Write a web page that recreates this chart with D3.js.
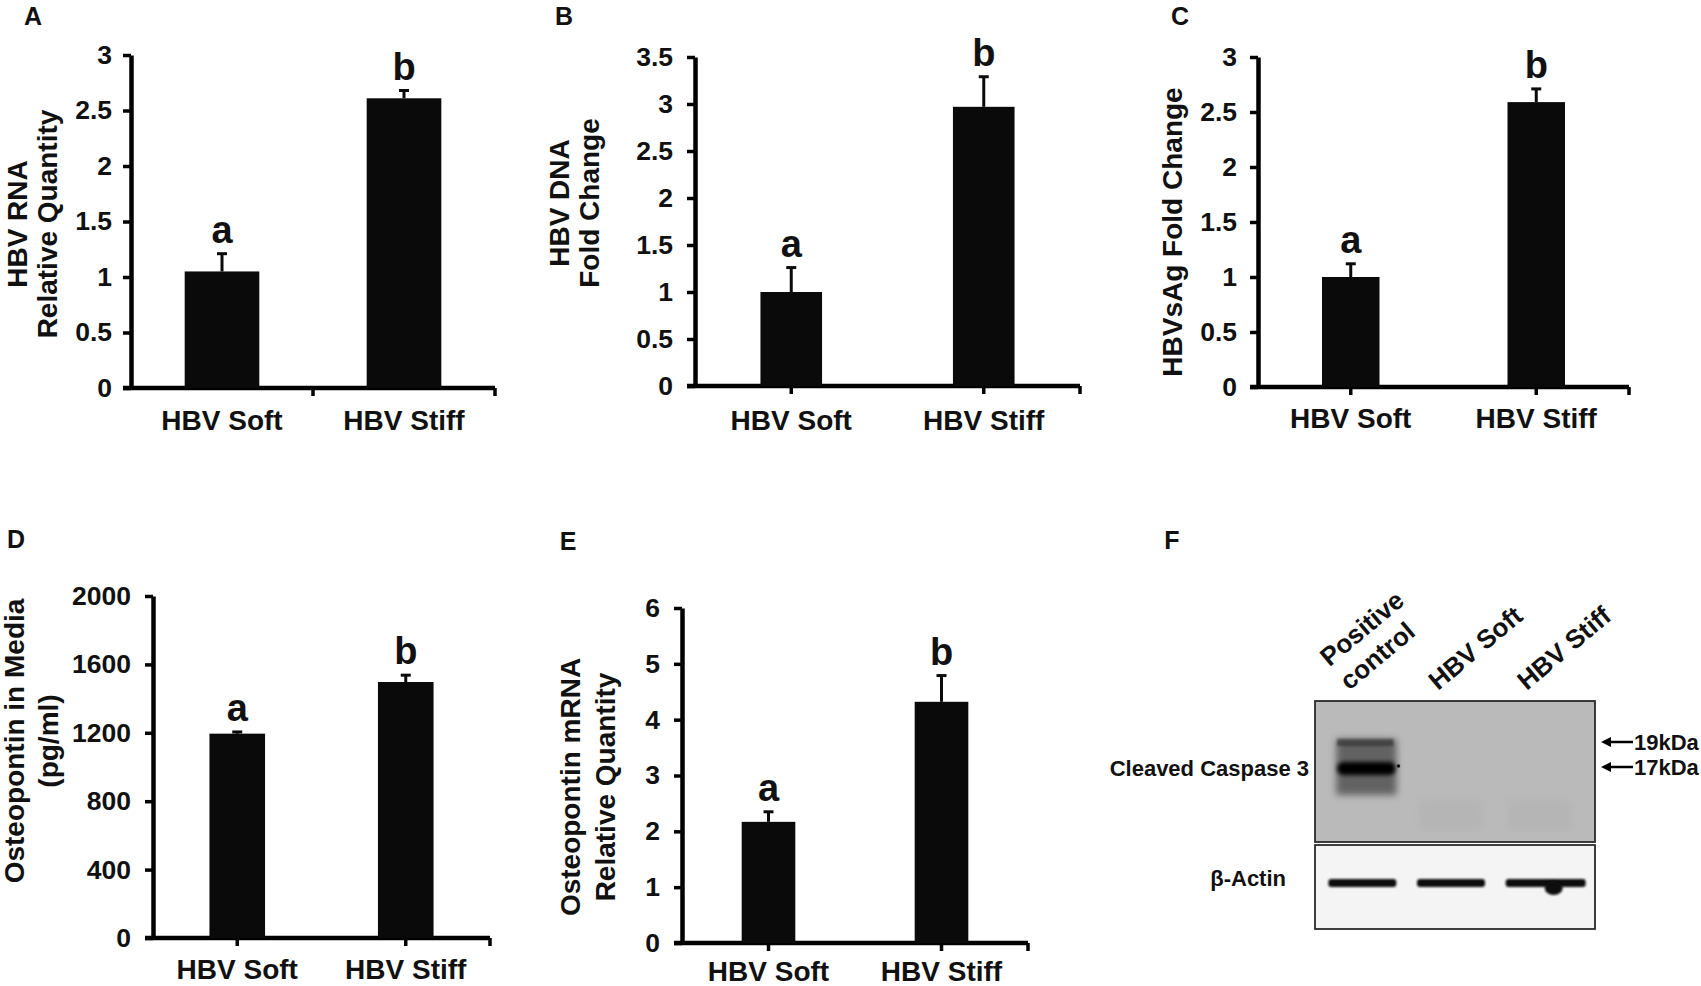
<!DOCTYPE html>
<html>
<head>
<meta charset="utf-8">
<style>
  body { margin: 0; background: #fff; }
  svg text { font-family: "Liberation Sans", Arial, sans-serif; font-weight: bold; fill: #111; }
  .axis .domain { stroke: #000; stroke-width: 4.5; }
  .axis line { stroke: #000; stroke-width: 3.5; }
  .axis text { font-size: 26.5px; }
  .xline { stroke: #000; stroke-width: 4.5; }
  .xtick { stroke: #000; stroke-width: 3.5; }
  .bar { fill: #0a0a0a; }
  .err { stroke: #0a0a0a; stroke-width: 3; }
  .sig { font-size: 38px; }
  .xlab { font-size: 28px; }
  .ytitle { font-size: 28px; }
  .plabel { font-size: 25px; }
  .blotlab { font-size: 22px; }
</style>
</head>
<body>
<svg width="1701" height="986"></svg>
<script src="https://d3js.org/d3.v7.min.js"></script>
<script>
// ---- data ----
var groups = ["HBV Soft", "HBV Stiff"];
var sigLetters = ["a", "b"];

// A: HBV RNA relative quantity
var rnaMean = [1.05, 2.61], rnaErr = [0.16, 0.07];
var rnaTicks = [0, 0.5, 1, 1.5, 2, 2.5, 3];
// B: HBV DNA fold change
var dnaMean = [1.0, 2.97], dnaErr = [0.26, 0.32];
var dnaTicks = [0, 0.5, 1, 1.5, 2, 2.5, 3, 3.5];
// C: HBVsAg fold change
var sagMean = [1.0, 2.59], sagErr = [0.12, 0.12];
var sagTicks = [0, 0.5, 1, 1.5, 2, 2.5, 3];
// D: osteopontin in media (pg/ml)
var opnMediaMean = [1195, 1497], opnMediaErr = [10, 40];
var opnMediaTicks = [0, 400, 800, 1200, 1600, 2000];
// E: osteopontin mRNA relative quantity
var opnMrnaMean = [2.17, 4.32], opnMrnaErr = [0.18, 0.47];
var opnMrnaTicks = [0, 1, 2, 3, 4, 5, 6];

// F: western blot
var lanes = ["Positive control", "HBV Soft", "HBV Stiff"];
var laneLines = [["Positive", "control"], ["HBV Soft"], ["HBV Stiff"]];
var markerKDa = [19, 17];
var casp19 = [0.55, 0, 0];
var casp17 = [1, 0, 0];
var actin = [1, 1, 1];

var svg = d3.select("svg");

function barPanel(p) {
  var g = svg.append("g");
  var y = d3.scaleLinear().domain([0, p.max]).range([p.yZero, p.yTop]);
  var x = d3.scaleBand().domain(groups).range([p.left, p.right]);
  var cx = function(i) { return x(groups[i]) + x.bandwidth() / 2; };
  var bw = x.bandwidth() * p.barFrac;

  // y axis
  g.append("g").attr("class", "axis")
    .attr("transform", "translate(" + p.left + ",0)")
    .call(d3.axisLeft(y).tickValues(p.ticks).tickSize(8).tickSizeOuter(0).tickPadding(p.pad)
      .tickFormat(function(d) { return String(d); }));

  // x axis (line + ticks)
  g.append("line").attr("class", "xline")
    .attr("x1", p.left - 8).attr("x2", p.right)
    .attr("y1", p.yZero).attr("y2", p.yZero);
  var tickPos = p.between
    ? groups.map(function(d) { return x(d) + x.bandwidth(); })
    : groups.map(function(d) { return x(d) + x.bandwidth() / 2; }).concat([p.right]);
  g.selectAll(".xtick").data(tickPos).join("line").attr("class", "xtick")
    .attr("x1", function(d) { return d; }).attr("x2", function(d) { return d; })
    .attr("y1", p.yZero).attr("y2", p.yZero + 8);

  // bars
  g.selectAll(".bar").data(p.mean).join("rect").attr("class", "bar")
    .attr("x", function(d, i) { return cx(i) - bw / 2; })
    .attr("width", bw)
    .attr("y", function(d) { return y(d); })
    .attr("height", function(d) { return y(0) - y(d); });

  // error bars (upper only)
  g.selectAll(".errv").data(p.mean).join("line").attr("class", "err")
    .attr("x1", function(d, i) { return cx(i); }).attr("x2", function(d, i) { return cx(i); })
    .attr("y1", function(d) { return y(d); })
    .attr("y2", function(d, i) { return y(d + p.err[i]); });
  g.selectAll(".errc").data(p.mean).join("line").attr("class", "err")
    .attr("x1", function(d, i) { return cx(i) - 5; }).attr("x2", function(d, i) { return cx(i) + 5; })
    .attr("y1", function(d, i) { return y(d + p.err[i]); })
    .attr("y2", function(d, i) { return y(d + p.err[i]); });

  // significance letters
  g.selectAll(".sig").data(p.mean).join("text").attr("class", "sig")
    .attr("text-anchor", "middle")
    .attr("x", function(d, i) { return cx(i); })
    .attr("y", function(d, i) { return y(d + p.err[i]) - 11; })
    .text(function(d, i) { return sigLetters[i]; });

  // category labels
  g.selectAll(".xlab").data(groups).join("text").attr("class", "xlab")
    .attr("text-anchor", "middle")
    .attr("x", function(d, i) { return cx(i); })
    .attr("y", p.labelY)
    .text(function(d) { return d; });

  // y title
  p.title.forEach(function(t, i) {
    g.append("text").attr("class", "ytitle")
      .attr("text-anchor", "middle").attr("dominant-baseline", "central")
      .attr("transform", "translate(" + p.titleX[i] + "," + p.titleY + ") rotate(-90)")
      .text(t);
  });

  // panel letter
  g.append("text").attr("class", "plabel")
    .attr("text-anchor", "middle").attr("dominant-baseline", "central")
    .attr("x", p.tag[1]).attr("y", p.tag[2]).text(p.tag[0]);
}

barPanel({ mean: rnaMean, err: rnaErr, ticks: rnaTicks, max: 3,
  left: 131, right: 495, yTop: 55, yZero: 388, between: true, barFrac: 0.41, pad: 11,
  labelY: 430, title: ["HBV RNA", "Relative Quantity"], titleX: [17, 47], titleY: 224,
  tag: ["A", 33, 16] });

barPanel({ mean: dnaMean, err: dnaErr, ticks: dnaTicks, max: 3.5,
  left: 695, right: 1080, yTop: 57, yZero: 386, between: false, barFrac: 0.32, pad: 14,
  labelY: 430, title: ["HBV DNA", "Fold Change"], titleX: [559, 589], titleY: 203,
  tag: ["B", 564, 16] });

barPanel({ mean: sagMean, err: sagErr, ticks: sagTicks, max: 3,
  left: 1258, right: 1629, yTop: 57, yZero: 387, between: false, barFrac: 0.31, pad: 13,
  labelY: 428, title: ["HBVsAg Fold Change"], titleX: [1172], titleY: 232,
  tag: ["C", 1180, 16] });

barPanel({ mean: opnMediaMean, err: opnMediaErr, ticks: opnMediaTicks, max: 2000,
  left: 153, right: 490, yTop: 596, yZero: 938, between: false, barFrac: 0.33, pad: 14,
  labelY: 979, title: ["Osteopontin in Media", "(pg/ml)"], titleX: [14, 48], titleY: 741,
  tag: ["D", 16, 539] });

barPanel({ mean: opnMrnaMean, err: opnMrnaErr, ticks: opnMrnaTicks, max: 6,
  left: 682, right: 1028, yTop: 608, yZero: 943, between: false, barFrac: 0.31, pad: 14,
  labelY: 981, title: ["Osteopontin mRNA", "Relative Quantity"], titleX: [570, 605], titleY: 787,
  tag: ["E", 568, 541] });

// ---- panel F: western blot ----
var defs = svg.append("defs");
defs.append("filter").attr("id", "blur3").attr("x", "-50%").attr("y", "-50%").attr("width", "200%").attr("height", "200%")
  .append("feGaussianBlur").attr("stdDeviation", 3.5);
defs.append("filter").attr("id", "blur2").attr("x", "-50%").attr("y", "-50%").attr("width", "200%").attr("height", "200%")
  .append("feGaussianBlur").attr("stdDeviation", 2);
defs.append("filter").attr("id", "blur1").attr("x", "-50%").attr("y", "-50%").attr("width", "200%").attr("height", "200%")
  .append("feGaussianBlur").attr("stdDeviation", 1.1);

var fg = svg.append("g");
var lane = d3.scaleBand().domain(lanes).range([1318, 1584]);
var kda = d3.scaleLinear().domain([17, 19]).range([767, 742]);
var laneX = function(i) { return lane(lanes[i]) + lane.bandwidth() / 2; };

fg.append("text").attr("class", "plabel").attr("text-anchor", "middle").attr("dominant-baseline", "central")
  .attr("x", 1172).attr("y", 540).text("F");

// blot boxes
fg.append("rect").attr("x", 1315).attr("y", 701).attr("width", 280).attr("height", 141)
  .attr("fill", "#bababa").attr("stroke", "#2a2a2a").attr("stroke-width", 1.8);
fg.append("rect").attr("x", 1315).attr("y", 845).attr("width", 280).attr("height", 84)
  .attr("fill", "#f4f4f4").attr("stroke", "#2a2a2a").attr("stroke-width", 1.8);

// faint lane smudges
fg.selectAll(".smudge").data(lanes).join("rect")
  .attr("x", function(d, i) { return laneX(i) - 32; }).attr("width", 64)
  .attr("y", 800).attr("height", 30).attr("fill", "#acacac").attr("opacity", function(d, i) { return i ? 0.35 : 0; })
  .attr("filter", "url(#blur3)");

// caspase 3 lane smear + bands
var bandW = lane.bandwidth() * 0.68;
fg.selectAll(".smear").data(casp17).join("rect")
  .attr("x", function(d, i) { return laneX(i) - bandW / 2 + 4; }).attr("width", bandW)
  .attr("y", kda(19) - 3).attr("height", 56)
  .attr("fill", "#3c3c3c").attr("opacity", function(d) { return d * 0.7; })
  .attr("filter", "url(#blur3)");
fg.selectAll(".b19").data(casp19).join("rect")
  .attr("x", function(d, i) { return laneX(i) - bandW / 2 + 5; }).attr("width", bandW - 4)
  .attr("y", kda(19) - 3).attr("height", 7)
  .attr("fill", "#222").attr("opacity", function(d) { return d; })
  .attr("filter", "url(#blur1)");
fg.selectAll(".b17").data(casp17).join("rect")
  .attr("x", function(d, i) { return laneX(i) - bandW / 2 + 5; }).attr("width", bandW - 2)
  .attr("y", kda(17) - 5).attr("height", 13).attr("rx", 6)
  .attr("fill", "#050505").attr("opacity", function(d) { return d; })
  .attr("filter", "url(#blur2)");
fg.append("circle").attr("cx", laneX(0) + bandW / 2 + 6).attr("cy", kda(17) - 1).attr("r", 1.8).attr("fill", "#111");

// beta-actin bands
fg.selectAll(".actin").data(actin).join("rect")
  .attr("x", function(d, i) { return laneX(i) - 34; }).attr("width", function(d, i) { return i === 2 ? 80 : 68; })
  .attr("y", 879).attr("height", 8).attr("rx", 3)
  .attr("fill", "#0d0d0d").attr("opacity", function(d) { return d; })
  .attr("filter", "url(#blur1)");
fg.append("ellipse").attr("cx", laneX(2) + 14).attr("cy", 888).attr("rx", 9).attr("ry", 7)
  .attr("fill", "#0d0d0d").attr("filter", "url(#blur1)");

// row labels
fg.append("text").attr("class", "blotlab").attr("text-anchor", "end").attr("dominant-baseline", "central")
  .attr("x", 1309).attr("y", 768).text("Cleaved Caspase 3");
fg.append("text").attr("class", "blotlab").attr("text-anchor", "end").attr("dominant-baseline", "central")
  .attr("x", 1286).attr("y", 878).text("β-Actin");

// lane labels (rotated)
laneLines.forEach(function(lines, i) {
  var t = fg.append("g")
    .attr("transform", "translate(" + (laneX(i) - 13) + ",691) rotate(-40)");
  lines.slice().reverse().forEach(function(s, k) {
    t.append("text").attr("x", 0).attr("y", -31 * k)
      .style("font-size", "26px").text(s);
  });
});

// size markers
var mk = fg.selectAll(".mk").data(markerKDa).join("g")
  .attr("transform", function(d) { return "translate(0," + kda(d) + ")"; });
mk.append("line").attr("x1", 1608).attr("x2", 1633).attr("y1", 0).attr("y2", 0)
  .attr("stroke", "#000").attr("stroke-width", 2.5);
mk.append("path").attr("d", "M1601,0 L1611,-5 L1611,5 Z").attr("fill", "#000");
mk.append("text").attr("class", "blotlab").attr("x", 1634).attr("dominant-baseline", "central")
  .text(function(d) { return d + "kDa"; });
</script>
</body>
</html>
